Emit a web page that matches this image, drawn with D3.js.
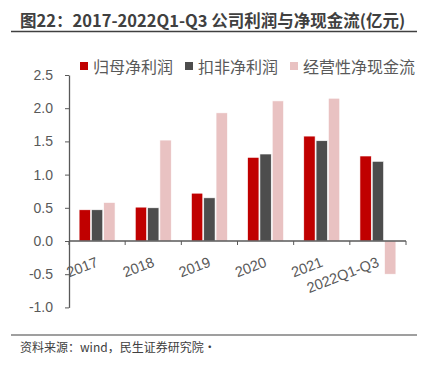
<!DOCTYPE html>
<html>
<head>
<meta charset="utf-8">
<script src="https://cdnjs.cloudflare.com/ajax/libs/d3/7.8.5/d3.min.js"></script>
<style>
  body { margin: 0; background: #fff; }
  text { font-family: "Noto Sans CJK SC", "DejaVu Sans", sans-serif; }
</style>
</head>
<body>
<svg id="chart" width="429" height="366"></svg>
<script>
var categories = ["2017", "2018", "2019", "2020", "2021", "2022Q1-Q3"];
var seriesNames = ["归母净利润", "扣非净利润", "经营性净现金流"];
var netProfit = [0.47, 0.51, 0.72, 1.26, 1.58, 1.28];
var netProfitExcl = [0.47, 0.50, 0.65, 1.31, 1.51, 1.20];
var opCashFlow = [0.58, 1.52, 1.93, 2.11, 2.15, -0.50];
var yTicks = [-1.0, -0.5, 0.0, 0.5, 1.0, 1.5, 2.0, 2.5];
var colors = ["#C00000", "#4D4D4D", "#E9C2C2"];

var svg = d3.select("#chart");
var series = [netProfit, netProfitExcl, opCashFlow];

// title + rules
svg.append("text").attr("x", 20).attr("y", 27)
   .attr("font-size", 16.5).attr("font-weight", "bold").attr("fill", "#404040")
   .text("图22：2017-2022Q1-Q3 公司利润与净现金流(亿元)");
svg.append("line").attr("x1", 11).attr("x2", 417).attr("y1", 31.5).attr("y2", 31.5)
   .attr("stroke", "#404040").attr("stroke-width", 1.5);
svg.append("line").attr("x1", 11).attr("x2", 417).attr("y1", 335).attr("y2", 335)
   .attr("stroke", "#404040").attr("stroke-width", 1.2);
svg.append("text").attr("x", 20).attr("y", 352)
   .attr("font-size", 12).attr("fill", "#404040")
   .text("资料来源：wind，民生证券研究院·");

var x = d3.scaleBand().domain(categories).range([69, 406]).paddingInner(0.36).paddingOuter(0.18);
var y = d3.scaleLinear().domain([-1.0, 2.5]).range([307.4, 75]);
var x1 = d3.scaleBand().domain(d3.range(3)).range([0, x.bandwidth()]).paddingInner(0.08);

// bars
series.forEach(function(vals, si) {
  svg.append("g").selectAll("rect").data(vals).enter().append("rect")
     .attr("x", function(d, i) { return x(categories[i]) + x1(si); })
     .attr("y", function(d) { return y(Math.max(0, d)); })
     .attr("width", x1.bandwidth())
     .attr("height", function(d) { return Math.abs(y(d) - y(0)); })
     .attr("fill", colors[si])
     .attr("stroke", "#fff").attr("stroke-width", 0.6);
});

// y axis
var yAxis = d3.axisLeft(y).tickValues(yTicks).tickFormat(d3.format(".1f")).tickSize(4).tickSizeOuter(0);
var gy = svg.append("g").attr("transform", "translate(69,0)").call(yAxis);
gy.selectAll("text").attr("font-size", 14).attr("fill", "#595959").attr("x", -16)
  .style("font-family", "'Liberation Sans', Arial, sans-serif")
  .text(function(d) { return d3.format(".1f")(d).replace("−", "-"); });
gy.selectAll("line").attr("stroke", "#595959");
gy.select(".domain").attr("stroke", "#595959").attr("stroke-width", 1.3);

// x axis at zero
var xTicks = d3.range(categories.length + 1).map(function(i) { return 69 + i * (337 / categories.length); });
var gx = svg.append("g");
gx.append("line").attr("x1", 69).attr("x2", 406).attr("y1", y(0)).attr("y2", y(0))
  .attr("stroke", "#595959").attr("stroke-width", 1.3);
gx.selectAll("line.tick").data(xTicks).enter().append("line").attr("class", "tick")
  .attr("x1", function(d) { return d; }).attr("x2", function(d) { return d; })
  .attr("y1", y(0)).attr("y2", y(0) + 4).attr("stroke", "#595959");
gx.selectAll("text").data(categories).enter().append("text")
  .attr("transform", function(d) {
    var cx = x(d) + x.bandwidth() / 2 + 2;
    return "translate(" + cx + "," + (y(0) + 25) + ") rotate(-21)";
  })
  .attr("text-anchor", "end")
  .attr("font-size", 14.5).attr("fill", "#595959")
  .style("font-family", "'Liberation Sans', Arial, sans-serif")
  .text(function(d) { return d; });

// legend
var legendX = [80, 185, 290];
var lg = svg.append("g");
seriesNames.forEach(function(name, i) {
  lg.append("rect").attr("x", legendX[i]).attr("y", 62).attr("width", 8).attr("height", 8).attr("fill", colors[i]);
  lg.append("text").attr("x", legendX[i] + 13).attr("y", 72.5).attr("font-size", 16).attr("fill", "#595959").text(name);
});
</script>
</body>
</html>
